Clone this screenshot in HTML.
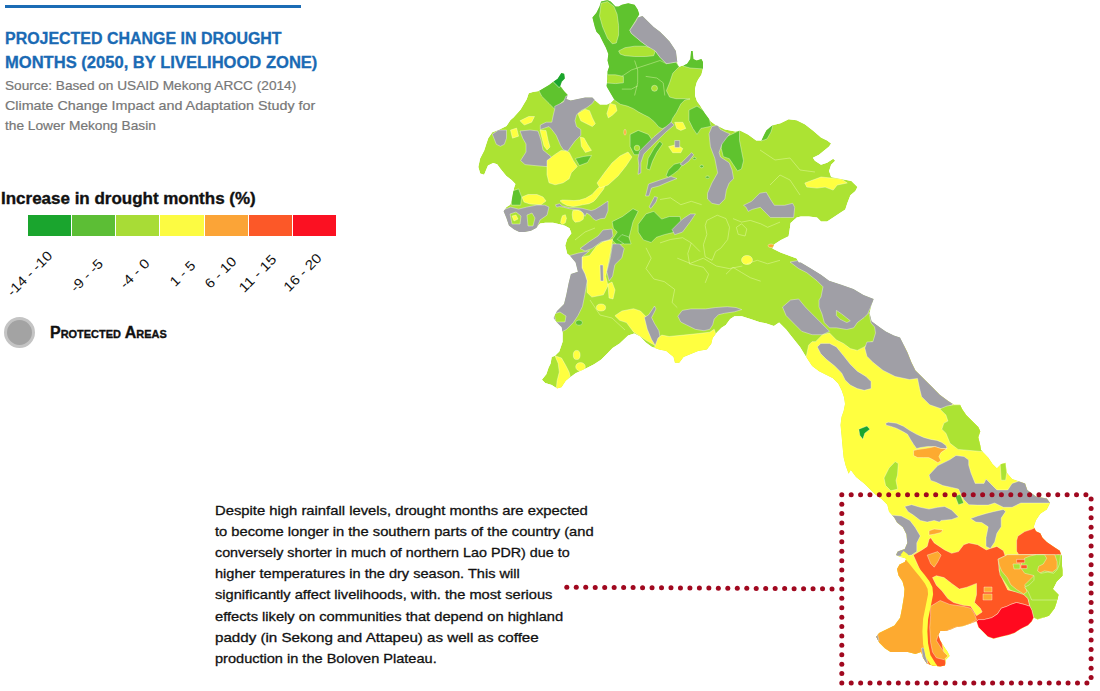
<!DOCTYPE html>
<html><head><meta charset="utf-8"><style>
html,body{margin:0;padding:0;background:#fff;}
body{width:1100px;height:691px;position:relative;overflow:hidden;font-family:"Liberation Sans",sans-serif;}
.a{position:absolute;white-space:nowrap;}
.tl{transform-origin:0 0;}
.p{-webkit-text-stroke:0.25px #161616;}
.lab{font-size:13.5px;line-height:14px;color:#111;transform-origin:50% 50%;}
</style></head><body>
<div class="a" style="left:5px;top:4.5px;width:296px;height:3px;background:#1b6cb5"></div>
<div class="a tl" id="h1" style="left:5.3px;top:30.96px;font-size:16px;line-height:16px;font-weight:bold;color:#1a6ab4;-webkit-text-stroke:0.3px #1a6ab4;transform:scaleX(0.9973);">PROJECTED CHANGE IN DROUGHT</div>
<div class="a tl" id="h2" style="left:5.3px;top:55.06px;font-size:16px;line-height:16px;font-weight:bold;color:#1a6ab4;-webkit-text-stroke:0.3px #1a6ab4;transform:scaleX(1.0345);">MONTHS (2050, BY LIVELIHOOD ZONE)</div>
<div class="a tl" id="s1" style="left:5.1px;top:78.90px;font-size:13px;line-height:13px;font-weight:normal;color:#777;-webkit-text-stroke:0.2px #777;transform:scaleX(1.0495);">Source: Based on USAID Mekong ARCC (2014)</div>
<div class="a tl" id="s2" style="left:5.1px;top:99.00px;font-size:13px;line-height:13px;font-weight:normal;color:#777;-webkit-text-stroke:0.2px #777;transform:scaleX(1.1010);">Climate Change Impact and Adaptation Study for</div>
<div class="a tl" id="s3" style="left:5.1px;top:119.00px;font-size:13px;line-height:13px;font-weight:normal;color:#777;-webkit-text-stroke:0.2px #777;transform:scaleX(1.0539);">the Lower Mekong Basin</div>
<div class="a tl" id="lt" style="left:0.6px;top:190.96px;font-size:16px;line-height:16px;font-weight:bold;color:#111;-webkit-text-stroke:0.35px #111;transform:scaleX(1.0612);">Increase in drought months (%)</div>
<div class="a tl" id="pa" style="left:50.2px;top:325.26px;font-size:16px;line-height:16px;font-weight:bold;color:#111;font-variant:small-caps;-webkit-text-stroke:0.35px #111;transform:scaleX(0.9962);">Protected Areas</div>
<div class="a tl" id="p0" style="left:214.8px;top:503.76px;font-size:13.4px;line-height:13.4px;font-weight:normal;color:#111;-webkit-text-stroke:0.3px #111;transform:scaleX(1.1056);">Despite high rainfall levels, drought months are expected</div>
<div class="a tl" id="p1" style="left:214.8px;top:524.92px;font-size:13.4px;line-height:13.4px;font-weight:normal;color:#111;-webkit-text-stroke:0.3px #111;transform:scaleX(1.0985);">to become longer in the southern parts of the country (and</div>
<div class="a tl" id="p2" style="left:214.8px;top:546.08px;font-size:13.4px;line-height:13.4px;font-weight:normal;color:#111;-webkit-text-stroke:0.3px #111;transform:scaleX(1.0682);">conversely shorter in much of northern Lao PDR) due to</div>
<div class="a tl" id="p3" style="left:214.8px;top:567.24px;font-size:13.4px;line-height:13.4px;font-weight:normal;color:#111;-webkit-text-stroke:0.3px #111;transform:scaleX(1.0868);">higher temperatures in the dry season. This will</div>
<div class="a tl" id="p4" style="left:214.8px;top:588.40px;font-size:13.4px;line-height:13.4px;font-weight:normal;color:#111;-webkit-text-stroke:0.3px #111;transform:scaleX(1.0932);">significantly affect livelihoods, with. the most serious</div>
<div class="a tl" id="p5" style="left:214.8px;top:609.56px;font-size:13.4px;line-height:13.4px;font-weight:normal;color:#111;-webkit-text-stroke:0.3px #111;transform:scaleX(1.0963);">effects likely on communities that depend on highland</div>
<div class="a tl" id="p6" style="left:214.8px;top:630.72px;font-size:13.4px;line-height:13.4px;font-weight:normal;color:#111;-webkit-text-stroke:0.3px #111;transform:scaleX(1.1304);">paddy (in Sekong and Attapeu) as well as coffee</div>
<div class="a tl" id="p7" style="left:214.8px;top:651.88px;font-size:13.4px;line-height:13.4px;font-weight:normal;color:#111;-webkit-text-stroke:0.3px #111;transform:scaleX(1.0868);">production in the Boloven Plateau.</div>
<div class="a" style="left:28px;top:215px;width:308px;height:21px;display:flex;gap:1px">
<div style="flex:1;background:#1aa52e"></div><div style="flex:1;background:#5cbe35"></div><div style="flex:1;background:#a8dc36"></div><div style="flex:1;background:#fcfb42"></div><div style="flex:1;background:#fba437"></div><div style="flex:1;background:#fc5828"></div><div style="flex:1;background:#fb1122"></div></div>
<div class="a lab" id="l0" style="left:30.0px;top:273.6px;transform:translate(-50%,-50%) rotate(-45deg) scaleX(1.1294)">-14 - -10</div>
<div class="a lab" id="l1" style="left:87.2px;top:275.6px;transform:translate(-50%,-50%) rotate(-45deg) scaleX(1.1139)">-9 - -5</div>
<div class="a lab" id="l2" style="left:135.2px;top:273.8px;transform:translate(-50%,-50%) rotate(-45deg) scaleX(1.1344)">-4 - 0</div>
<div class="a lab" id="l3" style="left:182.9px;top:274.0px;transform:translate(-50%,-50%) rotate(-45deg) scaleX(1.1037)">1 - 5</div>
<div class="a lab" id="l4" style="left:221.4px;top:273.2px;transform:translate(-50%,-50%) rotate(-45deg) scaleX(1.1057)">6 - 10</div>
<div class="a lab" id="l5" style="left:258.2px;top:273.5px;transform:translate(-50%,-50%) rotate(-45deg) scaleX(1.1390)">11 - 15</div>
<div class="a lab" id="l6" style="left:303.2px;top:273.0px;transform:translate(-50%,-50%) rotate(-45deg) scaleX(1.1286)">16 - 20</div>
<div class="a" style="left:4px;top:317px;width:25px;height:25px;border-radius:50%;background:#a3a3a3;border:3px solid #c4c4c4"></div>
<svg class="a" style="left:0;top:0" width="1100" height="691" viewBox="0 0 1100 691">
<defs><clipPath id="c"><polygon points="601.1,1.6 607.5,0 610.7,1.6 615.5,6.4 618.6,6.4 621.8,4.8 628.2,3.2 634.6,4.8 637.7,9.5 639.3,14.3 637.7,17.5 642.5,15.9 647.3,20.7 653.7,27.1 660,31.8 664.8,36.6 669.6,41.4 672.8,46.2 675.9,50.9 676.7,57.3 677.5,63.7 679.1,66.8 683.9,65.3 687.1,63.7 690.3,58.9 691.1,50.9 692.7,50.9 693.5,58.9 696.6,60.5 701.4,58.9 703,62.1 703,68.4 701.4,74.8 698.2,79.6 696.6,82.8 695,89.1 695,95.5 697,101.3 700,105.3 705,113.4 711,121.5 715,124.6 719,126.6 725,129.6 735.3,131.6 740,130.4 748,134.4 756.2,140.5 761.3,140.5 766.3,130.4 772.4,125.3 780.5,123.3 788.6,119.2 796.7,120.3 804.8,124.3 812.9,130.4 821,137.5 827.1,140.5 831.1,143.5 829.1,146.6 819,154.7 812.9,157.7 814.9,160.8 821,164.8 827.1,162.8 833.2,158.7 835.2,160.8 831.1,164.8 829.1,170.9 831.1,177 841.3,179 851.4,181 857.5,187.1 855.4,191.1 850.4,195.2 847.3,203.3 845.3,209.4 839.2,213.4 833.2,217.5 827.1,221.5 821,221.5 817,217.5 808.9,216.5 800.8,216.5 796.7,217.5 790.6,223 789.6,230 788.6,236.2 780.5,240.3 774.4,244.3 772.4,248.4 780.5,252.4 788.6,255.4 796.7,258.5 798.7,262.5 800.8,262.5 810.9,268.6 821,274.7 829.1,280.8 841.3,284.8 853.4,288.9 863.5,295 873.7,299 871.6,305 869.6,313.2 871.6,321.3 879.7,327.3 885.8,331.4 893.9,335.4 900,337.5 903.3,344 907.4,352.2 911.4,362.3 915.5,370.4 921.6,376.5 925.6,380.5 931.7,386.6 939.8,394.7 947.9,400.8 954,404.8 960.1,404.8 962.1,408.9 966.2,415 972.2,421.1 978.3,427.1 980.3,431.2 978.3,437.3 980.3,445.4 981,450 988.2,457.4 992.6,463.9 996.9,468.2 1001.2,463.9 1005.6,462.8 1006.7,472.6 1012.1,479.1 1018.6,481.2 1025.1,483.4 1027.3,489.9 1036,496.4 1046.8,498.6 1050.1,503 1046.8,509.5 1040.3,513.8 1036,520.3 1033.8,526.8 1036,531.2 1040.3,533.3 1042.5,537.7 1046.8,542 1053.3,546.4 1059.8,550.7 1062,557.2 1062,565.9 1062.4,570 1062.4,575.7 1056.6,581.5 1052.8,589.1 1058.5,594.8 1056.6,602.5 1054.7,608.2 1049,615.8 1043.3,617.7 1037.5,619.6 1033.7,617.7 1031.8,621.5 1028,625.4 1024.2,627.3 1020.4,629.2 1014.6,633 1008.9,634.9 1001.3,636.8 993.6,638.7 987.9,636.8 982.2,631.1 978.4,627.3 976.5,621.5 970.7,623.5 963.1,626.3 955.5,627.3 951.6,629.2 945.9,631.1 940.2,631.1 938.3,634.9 940.2,640.6 944,646.4 947.8,652.1 949.7,655.9 945.9,659.7 945,665.5 940.2,666.4 932.5,665.5 926.8,663.5 923,657.8 921.1,652.1 915.4,654 907.7,652.1 898.2,652.1 890.5,652.1 884.8,648.3 879.1,642.5 876.2,636.8 879.1,633 886.7,629.2 894.4,625.4 900.1,617.7 902,608.2 903.9,596.7 904.5,589.1 902.5,581.5 898.5,575.5 897,569 899.5,564.6 904.7,562 906.4,558.6 899.5,556.8 896,555.1 897.7,551.6 904.7,549 907.3,542.9 906.4,534.2 902.9,527.3 897,522.5 894.2,517.5 889,511.7 887.3,504.7 882.1,499.5 875.1,494.3 864.7,483.9 856,477 850.8,470 848.6,473.7 845.6,465.6 843.6,457.5 842.6,447.4 841.5,435.2 840.5,425.1 841.5,417 843.6,411 845,404 844,397.3 841.6,390.3 838.2,383.4 832.9,378.2 826,374.7 819,371.2 812.1,366 808.6,360.8 805.2,355.6 800,346.9 793,338.2 786.1,329.5 779.1,322.6 773.9,326 770.9,324.9 766.5,323.5 759.3,322 750.5,319.1 741.8,316.2 734.5,316.2 730.2,319.1 725.8,324.9 721.5,327.8 717.1,332.2 712.7,338 711.3,343.8 706.9,349.6 698.2,351.1 690.9,354 683.6,356.9 679.3,362.7 674.9,362.7 673.5,356.9 666.2,351.1 658.9,349.6 651.6,346.7 645.8,342.4 640,336.5 634.2,333.4 628.1,335.4 619.6,343.5 612.6,348.1 608,352.7 601,359.7 594.1,364.3 584.8,368.9 575.6,373.2 571.3,376.5 565.8,380.8 561.5,387.3 557.1,388.4 551.7,385.1 545.2,383 541.9,379.7 546.3,374.3 548.5,367.8 550.6,363.4 551.7,356.9 555,355.8 559.3,351.5 562.6,341.7 562.6,333 561.7,327.2 557,322.6 553.6,318 557,311 564,304.1 566.3,294.8 568.6,283.3 570.9,274 577.9,271.7 575.6,262.4 569.8,255.5 567.2,253.7 565.2,245.6 567.2,239 571.4,233.3 569.5,228.3 565,225.8 559.6,224.3 553,222.7 545.3,222.8 540.1,223.5 536.2,228.1 531,230.7 524.5,232 519.3,232 514.1,229.4 508.9,225.5 506.3,217.7 503.6,211.2 506.3,207.3 510.2,204.7 511.5,200.8 512.8,194.3 514.1,187.8 515.4,183.9 511.5,180 506.3,176 501,169.5 497.1,164.3 493.2,163 488,165.6 484.1,174.7 480.2,173.4 478.3,166.9 480.1,158.5 484.2,150.4 486.2,144.3 488.2,138.2 492.3,132.2 498.4,130.1 506.5,126.1 510.5,120 513.5,117.5 520.6,109.4 526.7,99.2 528.7,93.2 532.8,92 538.9,91 549,85 553.3,81.7 557.6,78.8 561.3,73 564.2,73.8 564.9,78.8 562,81.7 560.5,86.1 564.9,91.8 567.8,94.7 566.3,99.1 570.7,100.5 577.9,99.1 585.1,97.6 592.4,97.6 595.3,100.5 600,104.5 607,104.5 611,102.5 614,99.5 611.5,95 608,89 606.5,85.9 607.5,79.6 607.5,71.6 609.1,66.8 607.5,60.5 608.3,54.1 605.9,47.7 602.7,41.4 599.5,35 596.4,31.8 594.8,27.1 593.2,20.7 592.4,17.5 596.4,12.7 599.5,6.4"/></clipPath></defs>
<g clip-path="url(#c)"><polygon fill="#ace333" points="601.1,1.6 607.5,0 610.7,1.6 615.5,6.4 618.6,6.4 621.8,4.8 628.2,3.2 634.6,4.8 637.7,9.5 639.3,14.3 637.7,17.5 642.5,15.9 647.3,20.7 653.7,27.1 660,31.8 664.8,36.6 669.6,41.4 672.8,46.2 675.9,50.9 676.7,57.3 677.5,63.7 679.1,66.8 683.9,65.3 687.1,63.7 690.3,58.9 691.1,50.9 692.7,50.9 693.5,58.9 696.6,60.5 701.4,58.9 703,62.1 703,68.4 701.4,74.8 698.2,79.6 696.6,82.8 695,89.1 695,95.5 697,101.3 700,105.3 705,113.4 711,121.5 715,124.6 719,126.6 725,129.6 735.3,131.6 740,130.4 748,134.4 756.2,140.5 761.3,140.5 766.3,130.4 772.4,125.3 780.5,123.3 788.6,119.2 796.7,120.3 804.8,124.3 812.9,130.4 821,137.5 827.1,140.5 831.1,143.5 829.1,146.6 819,154.7 812.9,157.7 814.9,160.8 821,164.8 827.1,162.8 833.2,158.7 835.2,160.8 831.1,164.8 829.1,170.9 831.1,177 841.3,179 851.4,181 857.5,187.1 855.4,191.1 850.4,195.2 847.3,203.3 845.3,209.4 839.2,213.4 833.2,217.5 827.1,221.5 821,221.5 817,217.5 808.9,216.5 800.8,216.5 796.7,217.5 790.6,223 789.6,230 788.6,236.2 780.5,240.3 774.4,244.3 772.4,248.4 780.5,252.4 788.6,255.4 796.7,258.5 798.7,262.5 800.8,262.5 810.9,268.6 821,274.7 829.1,280.8 841.3,284.8 853.4,288.9 863.5,295 873.7,299 871.6,305 869.6,313.2 871.6,321.3 879.7,327.3 885.8,331.4 893.9,335.4 900,337.5 903.3,344 907.4,352.2 911.4,362.3 915.5,370.4 921.6,376.5 925.6,380.5 931.7,386.6 939.8,394.7 947.9,400.8 954,404.8 960.1,404.8 962.1,408.9 966.2,415 972.2,421.1 978.3,427.1 980.3,431.2 978.3,437.3 980.3,445.4 981,450 988.2,457.4 992.6,463.9 996.9,468.2 1001.2,463.9 1005.6,462.8 1006.7,472.6 1012.1,479.1 1018.6,481.2 1025.1,483.4 1027.3,489.9 1036,496.4 1046.8,498.6 1050.1,503 1046.8,509.5 1040.3,513.8 1036,520.3 1033.8,526.8 1036,531.2 1040.3,533.3 1042.5,537.7 1046.8,542 1053.3,546.4 1059.8,550.7 1062,557.2 1062,565.9 1062.4,570 1062.4,575.7 1056.6,581.5 1052.8,589.1 1058.5,594.8 1056.6,602.5 1054.7,608.2 1049,615.8 1043.3,617.7 1037.5,619.6 1033.7,617.7 1031.8,621.5 1028,625.4 1024.2,627.3 1020.4,629.2 1014.6,633 1008.9,634.9 1001.3,636.8 993.6,638.7 987.9,636.8 982.2,631.1 978.4,627.3 976.5,621.5 970.7,623.5 963.1,626.3 955.5,627.3 951.6,629.2 945.9,631.1 940.2,631.1 938.3,634.9 940.2,640.6 944,646.4 947.8,652.1 949.7,655.9 945.9,659.7 945,665.5 940.2,666.4 932.5,665.5 926.8,663.5 923,657.8 921.1,652.1 915.4,654 907.7,652.1 898.2,652.1 890.5,652.1 884.8,648.3 879.1,642.5 876.2,636.8 879.1,633 886.7,629.2 894.4,625.4 900.1,617.7 902,608.2 903.9,596.7 904.5,589.1 902.5,581.5 898.5,575.5 897,569 899.5,564.6 904.7,562 906.4,558.6 899.5,556.8 896,555.1 897.7,551.6 904.7,549 907.3,542.9 906.4,534.2 902.9,527.3 897,522.5 894.2,517.5 889,511.7 887.3,504.7 882.1,499.5 875.1,494.3 864.7,483.9 856,477 850.8,470 848.6,473.7 845.6,465.6 843.6,457.5 842.6,447.4 841.5,435.2 840.5,425.1 841.5,417 843.6,411 845,404 844,397.3 841.6,390.3 838.2,383.4 832.9,378.2 826,374.7 819,371.2 812.1,366 808.6,360.8 805.2,355.6 800,346.9 793,338.2 786.1,329.5 779.1,322.6 773.9,326 770.9,324.9 766.5,323.5 759.3,322 750.5,319.1 741.8,316.2 734.5,316.2 730.2,319.1 725.8,324.9 721.5,327.8 717.1,332.2 712.7,338 711.3,343.8 706.9,349.6 698.2,351.1 690.9,354 683.6,356.9 679.3,362.7 674.9,362.7 673.5,356.9 666.2,351.1 658.9,349.6 651.6,346.7 645.8,342.4 640,336.5 634.2,333.4 628.1,335.4 619.6,343.5 612.6,348.1 608,352.7 601,359.7 594.1,364.3 584.8,368.9 575.6,373.2 571.3,376.5 565.8,380.8 561.5,387.3 557.1,388.4 551.7,385.1 545.2,383 541.9,379.7 546.3,374.3 548.5,367.8 550.6,363.4 551.7,356.9 555,355.8 559.3,351.5 562.6,341.7 562.6,333 561.7,327.2 557,322.6 553.6,318 557,311 564,304.1 566.3,294.8 568.6,283.3 570.9,274 577.9,271.7 575.6,262.4 569.8,255.5 567.2,253.7 565.2,245.6 567.2,239 571.4,233.3 569.5,228.3 565,225.8 559.6,224.3 553,222.7 545.3,222.8 540.1,223.5 536.2,228.1 531,230.7 524.5,232 519.3,232 514.1,229.4 508.9,225.5 506.3,217.7 503.6,211.2 506.3,207.3 510.2,204.7 511.5,200.8 512.8,194.3 514.1,187.8 515.4,183.9 511.5,180 506.3,176 501,169.5 497.1,164.3 493.2,163 488,165.6 484.1,174.7 480.2,173.4 478.3,166.9 480.1,158.5 484.2,150.4 486.2,144.3 488.2,138.2 492.3,132.2 498.4,130.1 506.5,126.1 510.5,120 513.5,117.5 520.6,109.4 526.7,99.2 528.7,93.2 532.8,92 538.9,91 549,85 553.3,81.7 557.6,78.8 561.3,73 564.2,73.8 564.9,78.8 562,81.7 560.5,86.1 564.9,91.8 567.8,94.7 566.3,99.1 570.7,100.5 577.9,99.1 585.1,97.6 592.4,97.6 595.3,100.5 600,104.5 607,104.5 611,102.5 614,99.5 611.5,95 608,89 606.5,85.9 607.5,79.6 607.5,71.6 609.1,66.8 607.5,60.5 608.3,54.1 605.9,47.7 602.7,41.4 599.5,35 596.4,31.8 594.8,27.1 593.2,20.7 592.4,17.5 596.4,12.7 599.5,6.4"/><g stroke="#fff" stroke-opacity="0.45" stroke-width="0.8" stroke-linejoin="round">
<polygon fill="#5fc32e" points="585,0 645,0 640,14 637.7,17.5 629.8,30.2 631.4,33.4 640.9,41.4 647.3,46.2 655.3,50.9 660,57.3 666.4,63.7 675.9,62.1 679.1,66.8 672.8,73.2 669.6,82.8 666.4,90.7 669.6,97.1 675.9,98.7 685.5,98.7 690,99 684.8,100 680.8,104 676.7,112.2 672.7,118.2 670,125.2 666.5,126.9 662.1,128.7 658.6,126.9 654.3,121.7 649.1,117.4 643.9,114.8 638.7,112.1 633.4,108.7 627.4,106.1 620.4,104.3 614.3,100 610.9,94.8 607.4,88.7 585,90"/>
<polygon fill="#5fc32e" points="683,66 689,60 690.3,50 693,49 694,59 700,57 706,60 704,69 690,68"/>
<polygon fill="#ace333" points="601.1,3.2 607.5,1.6 613.9,6.4 617.1,14.3 618.6,25.5 618.6,35 616.3,43 612.3,43.8 607.5,38.2 602.7,27.1 599.5,15.9"/>
<polygon fill="#ace333" points="618.6,50.9 625,47.7 634.6,46.2 644.1,46.2 652.1,47.7 655.3,50.9 653.7,55.7 645.7,56.5 634.6,56.5 625,55.7 620.2,54.1"/>
<polygon fill="#ace333" points="604,74.8 615.5,74.8 623.4,76.4 623.4,82.8 615.5,83.6 604,82.8"/>
<ellipse fill="#ace333" cx="654.5" cy="88.3" rx="3" ry="3"/>
<polygon fill="#a09fa6" points="637.7,17.5 645,12 680,45 681,62 675.9,62.1 666.4,63.7 660,57.3 655.3,50.9 647.3,46.2 640.9,41.4 631.4,33.4 629.8,30.2 633,25.5 636.2,20.7"/>
<polygon fill="#ffff40" points="610,103.4 615.5,104.9 617,110.7 612.6,115 608.3,117.9 606.9,113.6"/>
<polygon fill="#5fc32e" points="538.8,90.4 540,84 552,78 553.3,81.7 559.1,87.5 560.5,86.1 564.9,91.8 567.8,94.7 566.3,99.1 562,102 557.6,106.3 554.7,109.2 549,103.4 541.7,96.2"/>
<polygon fill="#1aa52e" points="553.3,81.7 556,70 568,70 564.9,78.8 562,81.7 560.5,86.1 559.1,87.5"/>
<polygon fill="#a09fa6" points="554.7,106.3 563.4,102 566,96 596,95 595.3,99.1 592.4,103.4 586.6,107.8 580.8,110.7 576.5,115 575,120.8 576.5,126.6 580.8,129.5 580.8,135.3 575,141.1 570.7,146.9 567.8,151.2 563.4,149.8 560.5,145.4 556.2,135.3 551.8,129.5 549,126.6 544.6,128 540.3,129.5 540.3,125.1 546.1,122.2 551.8,122.2 553.3,115 554.7,109.2"/>
<polygon fill="#a09fa6" points="520,131 530,130 538,131 541,140 543,150 551,156.5 553,164.6 547,166.6 535,165.6 525,164.6 520.6,160.5 526,152 526,144 522.7,138.2"/>
<polygon fill="#a09fa6" points="492.3,134.2 498.4,130.1 506.5,130.1 506.5,138.2 504.4,144.3 500.4,146.3 496.3,144.3"/>
<polygon fill="#ffff40" points="510.5,130.1 516.6,128.1 518.6,136.2 512.5,138.2"/>
<polygon fill="#ffff40" points="540,130 546,130.5 548,140 550,147 547,150 544,146 542,138"/>
<polygon fill="#ffff40" points="520,120.8 528.7,116.5 534.5,116.5 531.6,122.2 524.3,125.1"/>
<polygon fill="#ffff40" points="577.9,113.6 585.1,109.2 589.5,110.7 592.4,117.9 595.3,123.7 592.4,126.6 586.6,123.7 580.8,120.8"/>
<polygon fill="#ffff40" points="580.4,137 584,138 587.5,144.3 591.5,150.4 585.4,152.4 581.4,146.3"/>
<polygon fill="#ffff40" points="547,160.5 555.1,154.4 561.1,150.4 566,151 569.2,152.4 573.3,160.5 577.3,166.6 571.3,172.7 569.2,178.7 563.2,182.8 555.1,184.8 549,182.8 547,174.7"/>
<polygon fill="#5fc32e" points="575.3,158.5 583.4,156.5 591.5,155.4 587.5,162.5 579.4,165.6"/>
<polygon fill="#ffff40" points="560,200.8 562.4,200 568.2,200.2 574,200.6 579.7,200 585.5,198.3 592,194.5 598,188 605.7,182.8 603.7,189 596,199 593.6,201.4 589,203.7 582.6,204.8 576.8,206 572.8,206.6 567,205.4 562.4,203.1"/>
<polygon fill="#ffff40" points="597,183 605,172 612,163 620,156 628,152 632,157 626,166 618,176 608,185 600,188"/>
<polygon fill="#ffff40" points="522,197 528,194.5 537,194.5 543,197 546,201 541,204.7 530,204 524,202"/>
<polygon fill="#ffff40" points="562.4,215.8 565.3,214.7 566.4,218.2 565.3,222.8 562.4,224.5 560.6,222.8 561.2,219.3"/>
<polygon fill="#ffff40" points="572.8,210.6 577.4,210.1 582.1,211.8 583.8,215.3 583.2,219.3 579.7,221.6 575.1,222.2 572.8,219.3 572.2,214.7"/>
<polygon fill="#5fc32e" points="512.5,190.9 518.6,188.9 521.6,197 520.6,205.1 511.5,205.1 511.5,199"/>
<polygon fill="#5fc32e" points="612.1,221.7 622.5,216.5 633,208.7 638.2,211.3 633,221.7 630.4,232.1 627.8,242.5 617.3,245.1 612.1,239.9 617.3,232.1 613.4,228.2"/>
<polygon fill="#a09fa6" points="500,211.1 510.5,207.1 518.6,209.1 526.7,207.1 536.8,205.1 544.9,205.1 549,207.1 547,215.2 540,220 537,228 531,234 519,235 512,232 506,226 502,217.2"/>
<polygon fill="#ace333" points="510,214 516,212 521,216 520,224 512,224"/>
<polygon fill="#ffff40" points="512,216 516,215 518,219 514,221"/>
<polygon fill="#ace333" points="527,215 532,213 535,218 533,226 528,226"/>
<polygon fill="#a09fa6" points="555.4,204.8 559.5,203.7 562.4,206 569.3,207.7 575.1,207.7 582.1,208.3 586.7,209.5 591.3,210.6 594.8,209.5 600.6,206 605,203 608,201 608,211 605,218.2 600.6,218.7 596,220.5 593.1,218.7 590.2,215.3 586.7,213 585,216.4 583.2,213 579.7,210.1 575.1,209.5 569.9,208.9 563.5,207.2 559.5,206.6 556.6,207.2"/>
<polygon fill="#ffff40" points="582,257 589.5,255.5 596.4,246.2 603.4,241.6 612.6,239.3 610.3,253.2 608,264.7 605.7,276.3 608,285.6 603.4,294.8 591.8,297.1 587.1,292.5 587.1,280.9 585,274 582,268"/>
<polygon fill="#a09fa6" points="580,248.5 589.5,241.5 598,236 603,230 612,229 613,236 610,239.5 601,242 592,248.5 585,251"/>
<polygon fill="#a09fa6" points="569.8,255.5 577.9,253.2 589.5,250.8 582,257 582,268 585,274 587.1,280.9 584.8,294.8 582.5,306.4 577.9,315.7 573.3,322.6 566.3,329.6 561.7,331.9 550,330 548,318 560,290 562,255"/>
<polygon fill="#ace333" points="554,314 560,312 566,316 565,322 556,322"/>
<polygon fill="#a09fa6" points="612.6,243.9 619.6,243.9 624.2,248.5 621.9,257.8 614.9,264.7 612.6,276.3 609.1,280.9 606.8,271.7 610.3,257.8"/>
<polygon fill="#a09fa6" points="600,265 603,265 603.5,281 600.5,281"/>
<polygon fill="#5fc32e" points="617.2,239.3 621.9,234.6 628.8,236.9 631.1,243.9 624.2,243.9"/>
<polygon fill="#ffff40" points="608,284 612,282 615,290 613,299 609,298"/>
<ellipse fill="#ffff40" cx="601" cy="307.5" rx="4.6" ry="3.5"/>
<polygon fill="#ffff40" points="614.9,315.7 621.9,311 633.5,308.7 640.4,311 647.3,318 649.7,327.2 654.3,336.5 656,346 647.3,341.1 640.4,336.5 633.5,331.9 626.5,322.6 619.6,320.3"/>
<polygon fill="#a09fa6" points="654.5,306 656,308.9 651.6,317.6 654.5,323.5 658.9,330.7 660.4,339.5 660.4,346.7 656,346.7 651.6,339.5 647.3,329.3 644.4,317.6 648.7,314.7"/>
<polygon fill="#ffff40" points="655,346 658,338 661.8,335.1 669.1,336.5 683.6,335.1 698.2,333.6 709.8,332.2 714.2,329.3 716,335 712,350 690,370 650,360"/>
<polygon fill="#a09fa6" points="677.8,316.2 682.2,310.4 690.9,308.9 705.5,308.9 715.6,307.5 727.3,306.7 736,307.5 741.8,309.6 734.5,311.8 724.4,313.3 718.5,314.7 714.2,319.1 712.7,324.9 709.8,329.3 704,330.7 695.3,329.3 686.5,324.9 680.7,322"/>
<polygon fill="#ffff40" points="555,355.8 561.5,358 565.8,365.6 569.1,372.1 570.2,376.5 565.8,381.9 562.6,387.3 560,392 556,392 557.1,380.8 559.3,372.1 558.2,363.4"/>
<ellipse fill="#ffff40" cx="576.7" cy="355" rx="3.4" ry="4.6"/>
<ellipse fill="#ffff40" cx="580.5" cy="366.8" rx="4.8" ry="4.2"/>
<ellipse fill="#5fc32e" cx="579" cy="322.7" rx="3.4" ry="2.6"/>
<polygon fill="#5fc32e" points="630.1,134.4 638.2,130.4 648.4,134.4 652.4,140.5 646.3,148.6 642.3,154.7 634.2,154.7 630.1,146.6"/>
<ellipse fill="#ace333" cx="637" cy="148" rx="2.8" ry="2.8"/>
<polygon fill="#5fc32e" points="646.7,168.6 648.2,158.4 654,148.3 659.7,141.1 662.6,144 656.8,152.6 652.5,161.3 649.6,170"/>
<polygon fill="#a09fa6" points="638,158.4 639.5,151.2 646.7,144 654,136.7 662.6,129.5 671.3,122.2 674.2,125.1 665.5,132.4 658.3,139.6 651,146.8 643.8,154.1 640.9,162.8 640.9,172.9 638,174.4 638.8,165.7"/>
<polygon fill="#5fc32e" points="688.9,110.1 697,106.1 703,110.1 709.1,118.2 711.1,126.3 701,128.4 697,134.4 692.9,128.4 688.9,120.3"/>
<polygon fill="#5fc32e" points="721.3,138.5 731.4,134.4 739.5,130.4 739.5,140.5 741.5,150.6 743.5,160.8 741.5,168.9 737.5,170.9 733.4,164.8 729.4,158.7 723.3,156.7 721.3,148.6"/>
<polygon fill="#a09fa6" points="707.5,193.2 711.9,183 717.6,172.9 714.8,158.4 710.4,146.8 709,133.8 711.9,126.6 717.6,125.1 720.5,129.5 726.3,132.4 730,133.8 726.3,138.2 722,144 719.1,152.6 720.5,157 724.9,159.9 729.2,162.8 732.1,170 733.6,178.7 729.2,183 726.3,190.3 724.9,199 719.1,204.8 711.9,203.3 707.5,199"/>
<polygon fill="#5fc32e" points="666,175.8 668.4,170 674.2,164.2 680,162.8 682.9,164.2 678.6,170 672.8,174.4 668.4,177.2"/>
<polygon fill="#a09fa6" points="680,164.2 685.8,158.4 691.6,152.6 693.8,154.8 688.7,161.3 682.9,165.7"/>
<ellipse fill="#5fc32e" cx="694.5" cy="158.4" rx="1.6" ry="1.2"/>
<ellipse fill="#5fc32e" cx="701.7" cy="166.4" rx="1.8" ry="1.4"/>
<ellipse fill="#5fc32e" cx="707.5" cy="177.2" rx="2" ry="1.2"/>
<polygon fill="#a09fa6" points="645.5,196 648.5,184 660,180 671,176.5 677,178.5 667,182.5 659,186 651.5,188 649,196"/>
<polygon fill="#a09fa6" points="654.5,196.5 657.5,197.5 656,202 651,208.5 649,207"/>
<polygon fill="#5fc32e" points="638.2,224.3 646,213.9 653.8,211.3 661.6,219.1 669.4,216.5 679.9,216.5 682.5,226.9 674.7,232.1 664.2,234.7 656.4,237.3 651.2,242.5 643.4,239.9 638.2,232.1"/>
<polygon fill="#a09fa6" points="672.1,229.5 682.5,219.1 690.3,213.9 695.5,213.9 690.3,221.7 682.5,232.1 674.7,234.7"/>
<polygon fill="#ffff40" points="674.7,122.3 682.8,122.3 685.8,128.4 680.8,130.4 676.7,128.4"/>
<polygon fill="#ffff40" points="668.6,146.6 676.7,144.6 682.8,148.6 680.8,152.7 672.7,152.7"/>
<polygon fill="#a09fa6" points="674.7,140.5 679.7,140.5 679.7,147.6 674.7,147.6"/>
<ellipse fill="#ffff40" cx="747" cy="260" rx="5.5" ry="4.6"/>
<ellipse fill="#fdaa30" cx="771" cy="245.8" rx="3" ry="1.8"/>
<ellipse fill="#fdaa30" cx="625" cy="132.2" rx="1.2" ry="3"/>
<polygon fill="#5fc32e" points="761,141 764,133 768,127 773,125 771,132 767,139"/>
<polygon fill="#ffff40" points="804.8,183 812.9,180 821,177 831.1,178 841.3,179 847.3,183 837.2,185 833.2,190.1 825.1,187.1 817,188.1 806.8,187.1"/>
<polygon fill="#a09fa6" points="743.5,205.3 751.6,201.3 759.7,193.2 766.3,192.2 770.4,199.2 774.4,205.3 784.6,205.3 792.7,203.3 794.7,207.3 793.7,217.5 780.5,217.5 770.4,217.5 766.3,213.4 760.3,207.3 752.2,209.4 748.1,211.4 746.1,207.3"/>
<polygon fill="#a09fa6" points="790,262 800.8,260 810.9,266 821,272 829.1,278 841.3,282 853.4,286 863.5,292 876,296 871.6,305 867.7,313.9 864.2,317.4 857.3,322.6 853.8,327.8 846.8,329.5 836.4,327.8 829.5,327.8 824.3,322.6 822,314 819,306.9 819,300 821,297 823,286.8 817,280.8 806.8,272.7 798.7,268.6"/>
<polygon fill="#ace333" points="836.4,310.4 841.6,313.9 850.3,320.8 846.8,322.6 839.9,319.1 836.4,315.6"/>
<polygon fill="#a09fa6" points="782.5,307 790.6,300 798.7,299 805.2,306.9 812.1,313.9 819,320.8 826,327.8 829.5,331.3 822.5,334.7 812.1,334.7 801.7,331.3 794.7,324.3 786.1,315.6"/>
<polygon fill="#ffff40" points="798,372 806,358 808.6,345.2 812,341.7 815.6,341.7 822.5,334.7 829.5,333 836.4,340 843.4,343.4 850.3,348.6 857.3,350.4 864.2,346.9 871.1,341.7 880,345 1100,345 1100,691 780,691"/>
<polygon fill="#a09fa6" points="869,313 880,318 905,333 925,372 955,402 952,405 941.8,408.9 929.7,404.8 921.6,396.7 919.6,388.6 917.5,378.5 909.4,379.5 895.2,376.5 883.1,370.4 872.9,362.3 866.9,356.2 864.8,348.1 866.9,342 872.9,341.7 875.5,333 874.6,327 871,323"/>
<polygon fill="#a09fa6" points="817.3,346.9 820.8,343.4 829.5,343.4 836.4,346.9 843.4,355.6 850.3,364.3 857.3,371.2 865.9,376.4 871.1,381.6 871.1,388.6 864.2,390.3 857.3,388.6 850.3,385.1 845.1,379.9 841.6,372.9 834.7,366 826,359 820.8,353.8"/>
<polygon fill="#ace333" points="939.8,408.9 947,406 954,404.8 960.1,404.8 990,420 995,452 981,451.5 958.1,449.4 950,443.3 945.9,433.2 941.8,429.2 943.9,423.1 947.9,421.1 945.9,415"/>
<polygon fill="#a09fa6" points="885.7,423.2 888.2,422.2 896.3,423.2 903.4,426.2 909.5,430.3 916.6,434.3 923.7,437.4 930.8,439.4 936.9,440.4 941.9,442.4 946,445.5 947,448.5 940.9,448.5 934.8,446.5 927.8,446.5 920.7,447.5 916.6,448.5 913.6,444.4 910.5,439.4 907.5,434.3 902.4,431.3 896.3,428.2 890.3,426.2 886.2,425.2"/>
<polygon fill="#fdaa30" points="913.6,450.5 917.6,449.5 924.7,448.5 930.8,447.5 934.8,446.5 940.9,448.5 947,448.5 940.9,452.6 938.9,456.6 940.9,460.7 937.9,462.7 932.8,459.6 928.8,457.6 923.7,457.6 917.6,457.6 913.6,455.6"/>
<polygon fill="#1aa52e" points="858.8,429.2 866.9,426.1 869.9,429.2 864.8,433.2 862.8,439.3 859.8,435.2"/>
<polygon fill="#a09fa6" points="929,475 937.8,465.6 950,459.6 956,455.5 964,456.5 968.7,460 968.7,465 971,473 975.2,483.4 984,483.4 986,479.1 990.4,483.4 996.9,489.9 1007.8,489.9 1012.1,483.4 1018.6,481.2 1030,480 1055,500 1050.1,503 1036,503 1020.8,503 1012.1,507.3 1003.4,507.3 994.7,503 988.2,505.1 977.4,505.1 968.9,504.7 963.7,499.5 958.5,489.1 951.6,487.4 942.9,485.6 935.9,482.2 930.7,480.4"/>
<polygon fill="#5fc32e" points="955,496 960.2,494.3 963.7,503 958.5,504.7"/>
<polygon fill="#ace333" points="1000.2,463.9 1005.6,462.8 1006.7,472.6 1005.6,480.2 1001.2,480.2"/>
<polygon fill="#ace333" points="889,468 895.2,461.6 898.3,463.6 897.5,475 896,480.4 897.7,489.1 890.8,490.8 885.6,485.6 884,478"/>
<polygon fill="#a09fa6" points="904.7,506.5 911.6,504.7 920.3,507.3 929,509.1 937.7,507.3 944.6,506.5 951.6,509.9 958.5,516.9 951.6,519.5 941.1,520.4 939.4,522.1 934.2,520.4 927.2,522.1 920.3,520.4 913.3,515.1 908.1,511.7"/>
<polygon fill="#a09fa6" points="970.6,518.6 977.6,516 986.3,513.4 993.2,511.7 1003.4,509.5 1005.6,511.6 1001.2,518.1 1001.2,526.8 996.9,533.3 994.7,542 990.4,548.5 986,546.4 986,537.7 988.2,526.8 981.7,522.5 975.9,522.1"/>
<polygon fill="#a09fa6" points="890,515 901.2,516 909.9,520.4 915.1,527.3 920.3,536 916.8,542.9 916.8,551.6 911.6,555.1 904.7,556 895,556 890,540"/>
<polygon fill="#fdaa30" points="929,530.8 934.2,529 942.9,529.9 941.1,532.5 934.2,534.2 929,535.1"/>
<polygon fill="#fdaa30" points="870,556 897.7,560 902.9,559 906,557 911,563 917,570 922,576 927,582 929,588 929.5,595 927,606 924.5,619 923.5,631 924,644 926,656 931,668 870,672"/>
<polygon fill="#a09fa6" points="873,633 877,632 879,641 875,642"/>
<polygon fill="#a09fa6" points="921.5,648 924,648 927.5,663 924,666"/>
<polygon fill="#ff5723" points="913.3,555.1 922,549.9 927.2,546.4 929,539.5 930.7,537.7 934.2,542.9 939.4,546.4 944.6,549.9 951.6,553.3 958.5,551.6 963.7,544.7 968.9,542.9 977.6,544.7 986.3,549.9 990.4,548.5 996.9,546.4 1003.4,550.7 1005.6,557.2 999.1,561.6 999.1,570.2 1003.4,581.1 1007.8,590 1012.7,591 1022.3,592.9 1028,598.6 1029.9,606.3 1024.2,604.4 1016.5,602.5 1010.8,604.4 1007,606.3 1001.3,608.2 997.5,613.9 991.7,617.7 984.1,619.6 978.4,619.6 976.5,621 970,624 955,628 945,632 940,632 945,660 948,670 930,670 926,655 926,620 930,600 928,585 920,570"/>
<polygon fill="#fdaa30" points="930.6,606.3 940.2,600.5 949.7,604.4 963.1,606.3 970.7,608.2 974.5,613.9 976.5,619.6 970.7,623.5 963.1,626.3 955.5,627.3 945.9,631.1 938.3,634.9 936.4,640.6 940.2,646.4 944,652.1 947.8,655.9 944,659.7 936.4,657.8 932.5,652.1 930.6,642.5 929.7,627.3 930.6,615.8"/>
<polygon fill="#ffff40" points="932.5,577.6 936.4,575.7 944,577.6 951.6,583.4 959.3,589.1 966.9,587.2 976.5,583.4 976.5,594.8 974.5,602.5 980.3,608.2 982.2,612 976.5,615.8 970.7,606.3 963.1,605.3 953.5,602.5 947.8,598.6 942.1,591 936.4,585.3"/>
<polygon fill="#fdaa30" points="927.2,555.1 937.7,551.6 941.1,555.1 937.7,562 934.2,567.2 930.7,563.8"/>
<polygon fill="#fdaa30" points="984,587 992,587 992,592 984,592"/>
<polygon fill="#fdaa30" points="983,594 992,594 992,600 983,600"/>
<polygon fill="#ff5723" points="1016.6,540.8 1017.8,536.2 1024.7,531.6 1031.7,529.3 1036.3,527 1040,525 1070,545 1066,556 1058.3,554.7 1050.2,555.9 1044.4,554.7 1036.3,554.7 1027,554.7 1018.9,554.7 1016.6,551.3"/>
<polygon fill="#ace333" points="998,559 1007.4,554.7 1060,554.7 1070,556 1070,625 1043.3,617.7 1037.5,619.6 1033.7,617.7 1031.8,610.1 1029.9,606.3 1028,598.6 1024.2,594.8 1010,590 1000,575"/>
<polygon fill="#fdaa30" points="998.1,559.4 1007.4,554.7 1054.8,554.7 1057.1,561.7 1057.1,568.6 1052.5,572.1 1044.4,570.9 1034,575.6 1029.4,580.2 1024.7,584.8 1027,591.8 1023.6,594.1 1016.6,589.5 1010.8,584.8 1007.4,577.9 1001.6,570.9 999.3,565.2"/>
<polygon fill="#ace333" points="1024.7,558.2 1030.5,555.9 1036.3,554.7 1044.4,554.7 1046.7,558.2 1043.3,564 1038.6,566.3 1037.5,570.9 1040.9,573.3 1047.9,572.1 1053.7,573.3 1057.1,569.8 1059.5,564 1060.6,554.7 1066,554.7 1066,600 1031.7,600 1028.2,591.8 1024.7,587.2 1029.4,584.8 1034,580.2 1034,575.6 1029.4,574.4 1024.7,573.3 1021.3,568.6 1021.3,564 1023.6,560.5"/>
<polygon fill="#ace333" points="1013,564 1020,564 1020,569 1014,569"/>
<polygon fill="#ff5723" points="1016.6,559.4 1024.7,559.4 1024.7,562.8 1016.6,562.8"/>
<polygon fill="#ff5723" points="1021,565 1027,565 1027,568.6 1021,568.6"/>
<polygon fill="#ff0a1f" points="976.5,621.5 978.4,627.3 982.2,631.1 987.9,636.8 993.6,638.7 1001.3,636.8 1008.9,634.9 1014.6,633 1020.4,629.2 1024.2,627.3 1028,625.4 1031.8,621.5 1033.7,617.7 1031.8,610.1 1029.9,606.3 1024.2,604.4 1016.5,602.5 1010.8,604.4 1007,606.3 1001.3,608.2 997.5,613.9 991.7,617.7 984.1,619.6 978.4,619.6"/>
<polyline fill="none" stroke="#ffff40" stroke-opacity="1" stroke-width="5" stroke-linejoin="round" points="902,553 906,556 911,562 917,569.5 922,575.5 926.9,581.9 930,588 930.6,594.3 928.1,606.7 925.6,619 924.9,631.4 925.6,643.8 928.1,656.2 934.3,666 937,670"/>
</g>
<g fill="none" stroke="#f4ffc0" stroke-opacity="0.5" stroke-width="0.8" stroke-linejoin="round"><polyline points="706.9,220.4 717.3,215.2 726,218.6 729.5,227.3 727.7,239.5 720.8,248.2 715.6,251.6 712.1,260.3 705.2,256.8 703.4,244.7 706.9,234.3 705.2,225.6 706.9,220.4"/><polyline points="660,242.9 670.4,239.5 682.6,237.7 691.3,242.9 700,251.6"/><polyline points="691.3,242.9 687.8,253.4 689.5,263.8 703.4,267.3 708.6,274.2 705.2,282.9"/><polyline points="733,218.6 741.6,222.1 750.3,220.4 760.7,223.8 767.7,227.3 780,222.1"/><polyline points="736.4,227.3 741.6,223.8 746.8,229 745.1,236 738.2,234.3 736.4,227.3"/><polyline points="746.8,263.8 757.3,260.3 767.7,263.8 780,260.3"/><polyline points="726,274.2 733,267.3 741.6,272.5 750.3,277.7 760.7,281.2"/><polyline points="660,199.5 670.4,197.8 680.8,204.7 691.3,201.3 701.7,204.7"/><polyline points="646,247.8 651.2,258.2 646,268.6 653.8,279 664.2,281.6 674.7,289.4 672.1,302.5 677.3,307.7"/><polyline points="677.3,258.2 690.3,263.4 703.3,258.2 716.3,266 729.4,268.6 742.4,266"/><polyline points="621.8,76.4 631.4,70 640.9,66.8 650.5,63.7 660,60.5 666.4,63.7"/><polyline points="634.6,60.5 637.7,70 637.7,82.8 634.6,95.5"/><polyline points="621.8,89.1 631.4,89.1 637.7,85.9"/><polyline points="645.7,76.4 656.8,78 663.2,82.8 664.8,95.5"/><polyline points="760,150 775,160 790,158 800,170 815,172"/><polyline points="770,185 780,175 790,180 800,195"/><polyline points="590,300 600,315 612,318 625,330"/><polyline points="575,240 585,232 595,228"/></g>
</g>
<g fill="#a0081f"><circle cx="841.80" cy="494.80" r="2.5"/><circle cx="851.19" cy="494.80" r="2.5"/><circle cx="860.58" cy="494.80" r="2.5"/><circle cx="869.97" cy="494.80" r="2.5"/><circle cx="879.35" cy="494.80" r="2.5"/><circle cx="888.74" cy="494.80" r="2.5"/><circle cx="898.13" cy="494.80" r="2.5"/><circle cx="907.52" cy="494.80" r="2.5"/><circle cx="916.91" cy="494.80" r="2.5"/><circle cx="926.30" cy="494.80" r="2.5"/><circle cx="935.68" cy="494.80" r="2.5"/><circle cx="945.07" cy="494.80" r="2.5"/><circle cx="954.46" cy="494.80" r="2.5"/><circle cx="963.85" cy="494.80" r="2.5"/><circle cx="973.24" cy="494.80" r="2.5"/><circle cx="982.63" cy="494.80" r="2.5"/><circle cx="992.02" cy="494.80" r="2.5"/><circle cx="1001.40" cy="494.80" r="2.5"/><circle cx="1010.79" cy="494.80" r="2.5"/><circle cx="1020.18" cy="494.80" r="2.5"/><circle cx="1029.57" cy="494.80" r="2.5"/><circle cx="1038.96" cy="494.80" r="2.5"/><circle cx="1048.35" cy="494.80" r="2.5"/><circle cx="1057.73" cy="494.80" r="2.5"/><circle cx="1067.12" cy="494.80" r="2.5"/><circle cx="1076.51" cy="494.80" r="2.5"/><circle cx="1085.90" cy="494.80" r="2.5"/><circle cx="1091.10" cy="499.00" r="2.5"/><circle cx="1091.10" cy="508.40" r="2.5"/><circle cx="1091.10" cy="517.80" r="2.5"/><circle cx="1091.10" cy="527.20" r="2.5"/><circle cx="1091.10" cy="536.60" r="2.5"/><circle cx="1091.10" cy="546.00" r="2.5"/><circle cx="1091.10" cy="555.40" r="2.5"/><circle cx="1091.10" cy="564.80" r="2.5"/><circle cx="1091.10" cy="574.20" r="2.5"/><circle cx="1091.10" cy="583.60" r="2.5"/><circle cx="1091.10" cy="593.00" r="2.5"/><circle cx="1091.10" cy="602.40" r="2.5"/><circle cx="1091.10" cy="611.80" r="2.5"/><circle cx="1091.10" cy="621.20" r="2.5"/><circle cx="1091.10" cy="630.60" r="2.5"/><circle cx="1091.10" cy="640.00" r="2.5"/><circle cx="1091.10" cy="649.40" r="2.5"/><circle cx="1091.10" cy="658.80" r="2.5"/><circle cx="1091.10" cy="668.20" r="2.5"/><circle cx="1091.10" cy="677.60" r="2.5"/><circle cx="841.80" cy="504.20" r="2.5"/><circle cx="841.80" cy="513.61" r="2.5"/><circle cx="841.80" cy="523.02" r="2.5"/><circle cx="841.80" cy="532.43" r="2.5"/><circle cx="841.80" cy="541.84" r="2.5"/><circle cx="841.80" cy="551.25" r="2.5"/><circle cx="841.80" cy="560.66" r="2.5"/><circle cx="841.80" cy="570.07" r="2.5"/><circle cx="841.80" cy="579.48" r="2.5"/><circle cx="841.80" cy="588.89" r="2.5"/><circle cx="841.80" cy="598.31" r="2.5"/><circle cx="841.80" cy="607.72" r="2.5"/><circle cx="841.80" cy="617.13" r="2.5"/><circle cx="841.80" cy="626.54" r="2.5"/><circle cx="841.80" cy="635.95" r="2.5"/><circle cx="841.80" cy="645.36" r="2.5"/><circle cx="841.80" cy="654.77" r="2.5"/><circle cx="841.80" cy="664.18" r="2.5"/><circle cx="841.80" cy="673.59" r="2.5"/><circle cx="841.80" cy="683.00" r="2.5"/><circle cx="851.20" cy="683.00" r="2.5"/><circle cx="860.63" cy="683.00" r="2.5"/><circle cx="870.06" cy="683.00" r="2.5"/><circle cx="879.48" cy="683.00" r="2.5"/><circle cx="888.91" cy="683.00" r="2.5"/><circle cx="898.34" cy="683.00" r="2.5"/><circle cx="907.77" cy="683.00" r="2.5"/><circle cx="917.20" cy="683.00" r="2.5"/><circle cx="926.62" cy="683.00" r="2.5"/><circle cx="936.05" cy="683.00" r="2.5"/><circle cx="945.48" cy="683.00" r="2.5"/><circle cx="954.91" cy="683.00" r="2.5"/><circle cx="964.34" cy="683.00" r="2.5"/><circle cx="973.76" cy="683.00" r="2.5"/><circle cx="983.19" cy="683.00" r="2.5"/><circle cx="992.62" cy="683.00" r="2.5"/><circle cx="1002.05" cy="683.00" r="2.5"/><circle cx="1011.48" cy="683.00" r="2.5"/><circle cx="1020.90" cy="683.00" r="2.5"/><circle cx="1030.33" cy="683.00" r="2.5"/><circle cx="1039.76" cy="683.00" r="2.5"/><circle cx="1049.19" cy="683.00" r="2.5"/><circle cx="1058.62" cy="683.00" r="2.5"/><circle cx="1068.04" cy="683.00" r="2.5"/><circle cx="1077.47" cy="683.00" r="2.5"/><circle cx="1086.90" cy="683.00" r="2.5"/><circle cx="566.80" cy="587.20" r="2.5"/><circle cx="576.27" cy="587.26" r="2.5"/><circle cx="585.74" cy="587.32" r="2.5"/><circle cx="595.21" cy="587.38" r="2.5"/><circle cx="604.69" cy="587.44" r="2.5"/><circle cx="614.16" cy="587.50" r="2.5"/><circle cx="623.63" cy="587.56" r="2.5"/><circle cx="633.10" cy="587.62" r="2.5"/><circle cx="642.57" cy="587.69" r="2.5"/><circle cx="652.04" cy="587.75" r="2.5"/><circle cx="661.51" cy="587.81" r="2.5"/><circle cx="670.99" cy="587.87" r="2.5"/><circle cx="680.46" cy="587.93" r="2.5"/><circle cx="689.93" cy="587.99" r="2.5"/><circle cx="699.40" cy="588.05" r="2.5"/><circle cx="708.87" cy="588.11" r="2.5"/><circle cx="718.34" cy="588.17" r="2.5"/><circle cx="727.81" cy="588.23" r="2.5"/><circle cx="737.29" cy="588.29" r="2.5"/><circle cx="746.76" cy="588.35" r="2.5"/><circle cx="756.23" cy="588.41" r="2.5"/><circle cx="765.70" cy="588.48" r="2.5"/><circle cx="775.17" cy="588.54" r="2.5"/><circle cx="784.64" cy="588.60" r="2.5"/><circle cx="794.11" cy="588.66" r="2.5"/><circle cx="803.59" cy="588.72" r="2.5"/><circle cx="813.06" cy="588.78" r="2.5"/><circle cx="822.53" cy="588.84" r="2.5"/><circle cx="832.00" cy="588.90" r="2.5"/></g>
</svg>
</body></html>
